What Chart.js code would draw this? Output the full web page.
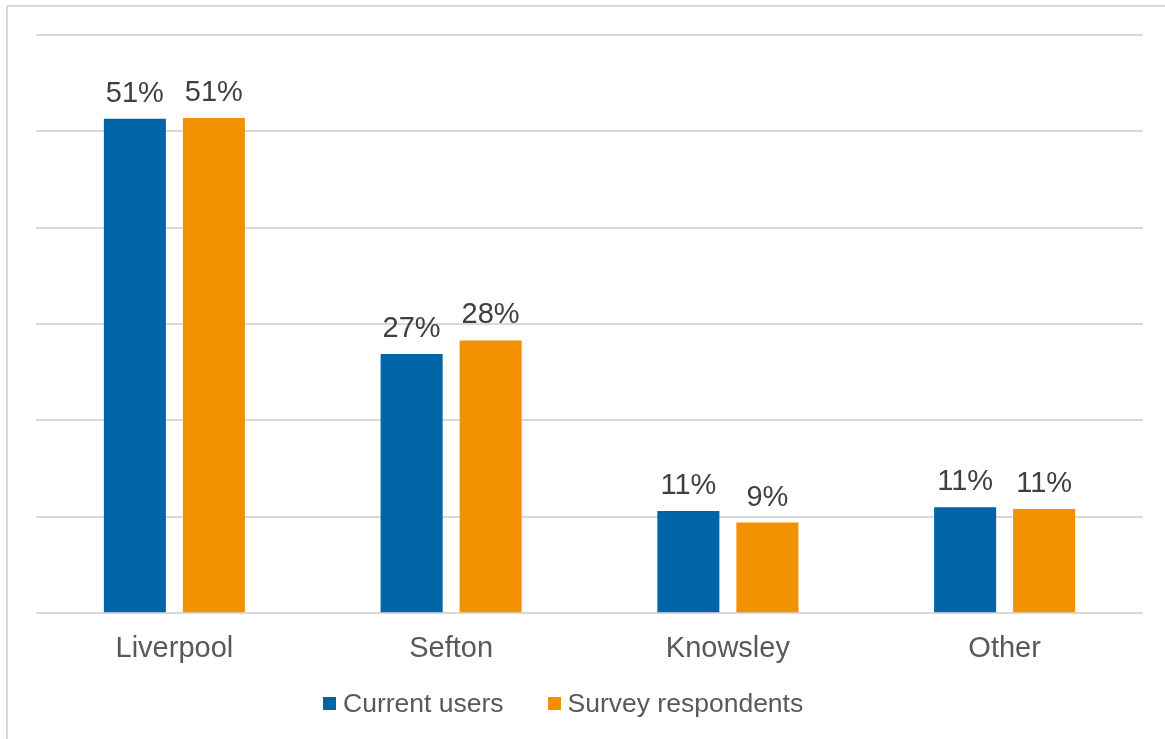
<!DOCTYPE html>
<html>
<head>
<meta charset="utf-8">
<title>Current users and survey respondents by area</title>
<script src="https://cdn.jsdelivr.net/npm/chart.js@4/dist/chart.umd.min.js"></script>
<style>
    body { margin: 0; background: #fff; font-family: "Liberation Sans", Arial, sans-serif; }
    #wrap { position: relative; width: 1165px; height: 739px; overflow: hidden; }
    #frame {
        position: absolute; left: 6px; top: 5px; width: 1200px; height: 800px;
        border-left: 2px solid #d9d9d9; border-top: 2px solid #d9d9d9;
    }
    #area-chart { position: absolute; left: 0; top: 0; }
    #legend {
        position: absolute; left: 323px; top: 688px; display: flex; align-items: center;
        font-size: 26.5px; color: #595959; white-space: nowrap;
    }
    .item { display: flex; align-items: center; margin-right: 44px; }
    .swatch { width: 13px; height: 13px; margin-right: 7px; }
</style>
</head>
<body>
<div id="wrap">
    <div id="frame"></div>
    <canvas id="area-chart" width="1165" height="739"></canvas>
    <div id="legend"></div>
</div>
<script>
const regions = ["Liverpool", "Sefton", "Knowsley", "Other"];
const currentUsers = [51.3, 26.9, 10.6, 11.0];
const surveyRespondents = [51.4, 28.3, 9.4, 10.8];
const seriesNames = ["Current users", "Survey respondents"];
const seriesColors = ["#0065A6", "#F29100"];

// percentage above each bar, rounded like the source table
const barLabels = {
    id: "barLabels",
    afterDatasetsDraw(chart) {
        const ctx = chart.ctx;
        ctx.save();
        ctx.font = '29px "Liberation Sans", Arial, sans-serif';
        ctx.fillStyle = "#404040";
        ctx.textAlign = "center";
        ctx.textBaseline = "alphabetic";
        chart.data.datasets.forEach((ds, i) => {
            chart.getDatasetMeta(i).data.forEach((bar, j) => {
                ctx.fillText(Math.round(ds.data[j]) + "%", bar.x, bar.y - 17);
            });
        });
        ctx.restore();
    }
};

function buildLegend() {
    const legend = document.getElementById("legend");
    seriesNames.forEach((name, i) => {
        const item = document.createElement("div");
        item.className = "item";
        item.innerHTML = `<span class="swatch" style="background:${seriesColors[i]}"></span>${name}`;
        legend.appendChild(item);
    });
}

function renderChart() {
    const ctx = document.getElementById("area-chart").getContext("2d");
    new Chart(ctx, {
        type: "bar",
        data: {
            labels: regions,
            datasets: [
                { label: seriesNames[0], data: currentUsers, backgroundColor: seriesColors[0] },
                { label: seriesNames[1], data: surveyRespondents, backgroundColor: seriesColors[1] }
            ]
        },
        options: {
            responsive: false,
            animation: false,
            categoryPercentage: 0.571,
            barPercentage: 0.785,
            layout: { padding: { left: 36, right: 22, top: 35, bottom: 55 } },
            plugins: {
                legend: { display: false },
                tooltip: { enabled: false }
            },
            scales: {
                x: {
                    grid: { display: false, drawTicks: false },
                    border: { display: false },
                    ticks: {
                        padding: 18,
                        color: "#595959",
                        font: { family: "'Liberation Sans', Arial, sans-serif", size: 29 }
                    }
                },
                y: {
                    min: 0,
                    max: 60,
                    grid: { color: "#d9d9d9", lineWidth: 2, drawTicks: false },
                    border: { display: false },
                    ticks: { display: false, stepSize: 10 }
                }
            }
        },
        plugins: [barLabels]
    });
}

buildLegend();
renderChart();
</script>
</body>
</html>
